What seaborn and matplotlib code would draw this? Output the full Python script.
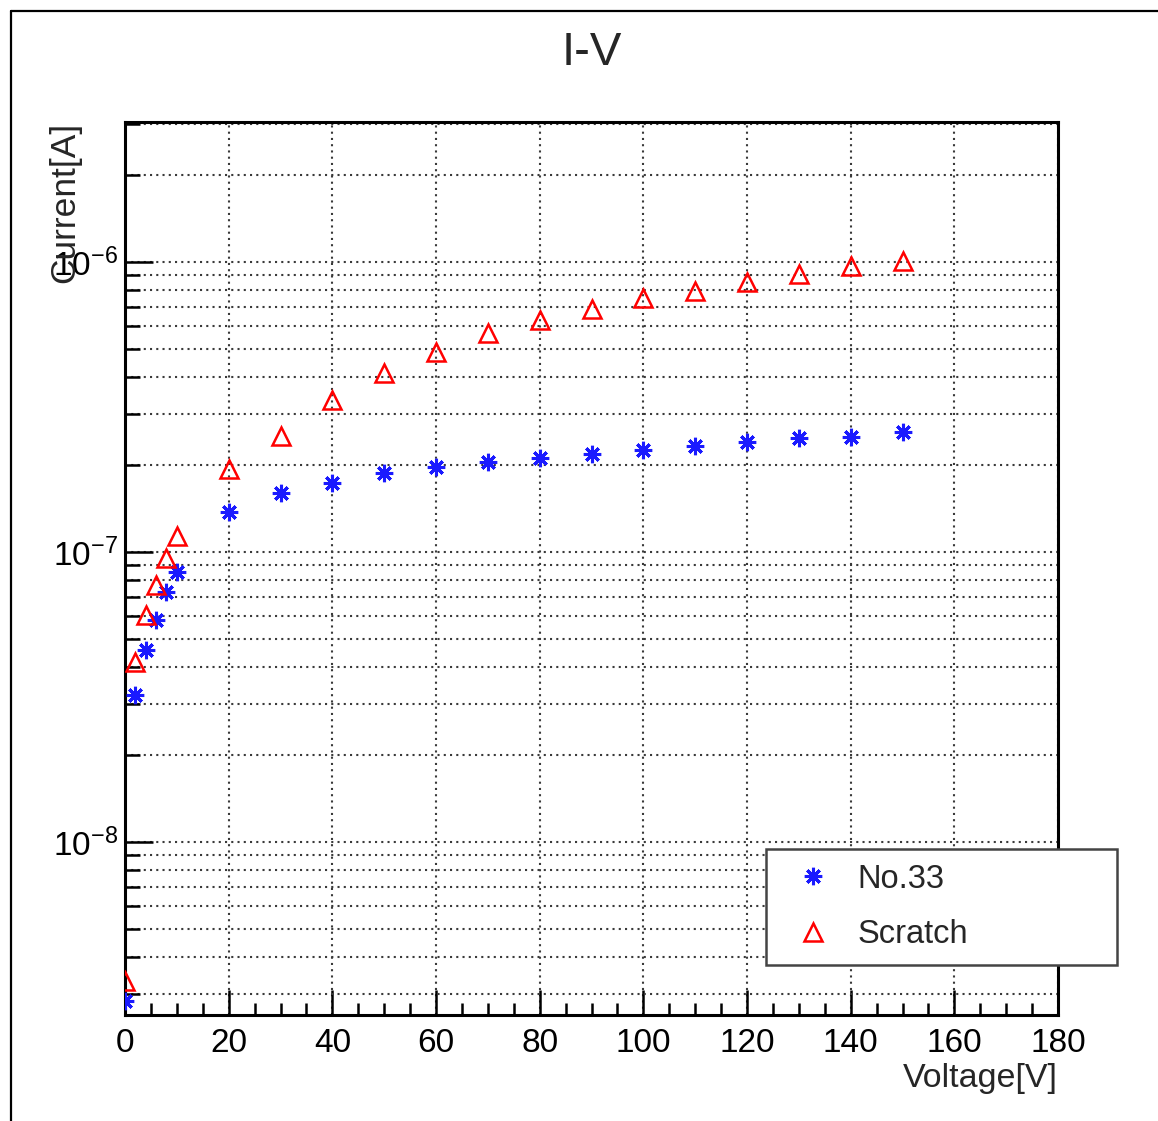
import numpy as np
import pandas as pd
import matplotlib
matplotlib.use("Agg")
import matplotlib.pyplot as plt
import seaborn as sns
from matplotlib.lines import Line2D
from matplotlib.ticker import MultipleLocator, LogLocator, NullFormatter, FixedLocator

# ---------------- data ----------------
voltage = [0, 2, 4, 6, 8, 10, 20, 30, 40, 50, 60, 70, 80, 90, 100, 110, 120, 130, 140, 150]
current_no33 = [2.83e-9, 3.21e-8, 4.59e-8, 5.83e-8, 7.28e-8, 8.53e-8, 1.37e-7, 1.60e-7,
                1.73e-7, 1.87e-7, 1.96e-7, 2.04e-7, 2.11e-7, 2.18e-7, 2.25e-7, 2.32e-7,
                2.40e-7, 2.47e-7, 2.50e-7, 2.59e-7]
current_scratch = [3.32e-9, 4.18e-8, 6.07e-8, 7.69e-8, 9.57e-8, 1.135e-7, 1.93e-7, 2.51e-7,
                   3.34e-7, 4.14e-7, 4.89e-7, 5.69e-7, 6.31e-7, 6.89e-7, 7.51e-7, 7.94e-7,
                   8.53e-7, 9.09e-7, 9.69e-7, 1.01e-6]
series_names = ["No.33", "Scratch"]
x_ticks = [0, 20, 40, 60, 80, 100, 120, 140, 160, 180]
y_major = [1e-8, 1e-7, 1e-6]

title = "I-V"
x_label = "Voltage[V]"
y_label = "Current[A]"

# ---------------- style ----------------
sns.set_style("white")
plt.rcParams["font.family"] = ["Liberation Sans", "DejaVu Sans"]
plt.rcParams["axes.unicode_minus"] = True

W, H = 1158, 1121
fig = plt.figure(figsize=(W / 100, H / 100), dpi=100)
ax_l, ax_r, ax_t, ax_b = 125, 1058, 122, 1015
ax = fig.add_axes([ax_l / W, 1 - ax_b / H, (ax_r - ax_l) / W, (ax_b - ax_t) / H])

df = pd.DataFrame({
    "Voltage": voltage + voltage,
    "Current": current_no33 + current_scratch,
    "Series": [series_names[0]] * len(voltage) + [series_names[1]] * len(voltage),
})

sns.lineplot(data=df[df["Series"] == series_names[0]], x="Voltage", y="Current",
             ax=ax, estimator=None, linestyle="none", marker=(8, 2, 0),
             markersize=12.5, markeredgewidth=2.2, color="#1a1aff",
             markeredgecolor="#1a1aff", label=series_names[0], zorder=3)
sns.lineplot(data=df[df["Series"] == series_names[1]], x="Voltage", y="Current",
             ax=ax, estimator=None, linestyle="none", marker="^",
             markersize=13.5, markeredgewidth=1.8, color="#ff0000",
             markerfacecolor="none", markeredgecolor="#ff0000",
             label=series_names[1], zorder=3)

ax.set_yscale("log")
ax.set_xlim(0, 180)
ax.set_ylim(10 ** -8.5966, 10 ** -5.517)

ax.xaxis.set_major_locator(FixedLocator(x_ticks))
ax.xaxis.set_minor_locator(MultipleLocator(5))
ax.yaxis.set_major_locator(FixedLocator(y_major))
ax.yaxis.set_minor_locator(LogLocator(base=10, subs=np.arange(2, 10), numticks=20))
ax.yaxis.set_minor_formatter(NullFormatter())

# grid
grid_kw = dict(color="#3a3a3a", linestyle=(0, (1, 2.0)), linewidth=1.5)
ax.grid(True, which="major", axis="x", **grid_kw)
ax.grid(True, which="both", axis="y", **grid_kw)
ax.set_axisbelow(True)

for s in ax.spines.values():
    s.set_color("black")
    s.set_linewidth(2.2)

ax.tick_params(bottom=True, left=True, top=False, right=False, which="both")
ax.tick_params(axis="x", which="major", direction="in", length=18, width=1.8,
               labelsize=24, pad=9, colors="black")
ax.tick_params(axis="x", which="minor", direction="in", length=9, width=1.8,
               colors="black")
ax.tick_params(axis="y", which="major", direction="in", length=20, width=1.8,
               labelsize=24, pad=5, colors="black")
ax.tick_params(axis="y", which="minor", direction="in", length=11, width=1.8,
               colors="black")

ax.set_title(title, fontsize=34, pad=41)
ax.set_xlabel(x_label, fontsize=24.5, loc="right")
ax.xaxis.set_label_coords(1.0, -(1063 - ax_b) / (ax_b - ax_t))
ax.set_ylabel(y_label, fontsize=25.5, loc="top")
ax.yaxis.set_label_coords(-(ax_l - 81) / (ax_r - ax_l), 1.0)

leg = ax.legend(loc="upper left",
                bbox_to_anchor=(766 / W, 1 - 960 / H, (1117 - 766) / W, (960 - 849) / H),
                bbox_transform=fig.transFigure, mode="expand",
                fontsize=23.5, frameon=True, fancybox=False, framealpha=1,
                edgecolor="#444444", borderpad=0.45, labelspacing=0.75,
                handlelength=2.0, handletextpad=0.35, borderaxespad=0)
leg.get_frame().set_linewidth(1.8)

# page border lines (left and top)
fig.add_artist(Line2D([11 / W, 11 / W], [0, 1 - 11 / H], transform=fig.transFigure,
                      color="black", linewidth=1.6))
fig.add_artist(Line2D([11 / W, 1], [1 - 11 / H, 1 - 11 / H], transform=fig.transFigure,
                      color="black", linewidth=1.6))

fig.savefig("out.png", dpi=100)
